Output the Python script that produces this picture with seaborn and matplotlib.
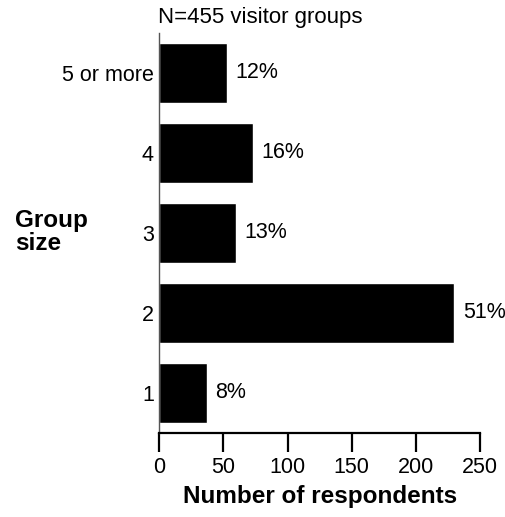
import pandas as pd
import matplotlib.pyplot as plt
import seaborn as sns

GROUP_SIZES = ["5 or more", "4", "3", "2", "1"]
RESPONDENTS = [53, 73, 60, 230, 37]
PERCENT_LABELS = ["12%", "16%", "13%", "51%", "8%"]
X_TICKS = [0, 50, 100, 150, 200, 250]

sns.set_style("white")
plt.rcParams["font.family"] = ["Liberation Sans", "DejaVu Sans"]
plt.rcParams["text.color"] = "black"
plt.rcParams["xtick.color"] = "black"
plt.rcParams["ytick.color"] = "black"
plt.rcParams["axes.labelcolor"] = "black"

df = pd.DataFrame({"size": GROUP_SIZES, "n": RESPONDENTS})

fig = plt.figure(figsize=(5.05, 5.17), dpi=100)
ax = fig.add_axes([0.3155, 0.1625, 0.635, 0.7743])

sns.barplot(data=df, x="n", y="size", orient="h", color="black",
            width=0.75, saturation=1, ax=ax)

for i, (val, lab) in enumerate(zip(RESPONDENTS, PERCENT_LABELS)):
    ax.annotate(lab, (val, i), xytext=(6, 0), textcoords="offset points",
                va="center", ha="left", fontsize=15.5, clip_on=False)

ax.set_xlim(0, 250)
ax.set_ylim(4.5, -0.5)
ax.set_xticks(X_TICKS)
ax.set_xlabel("Number of respondents", fontsize=17.5, fontweight="bold", labelpad=5)
ax.set_ylabel("")

sns.despine(ax=ax, top=True, right=True)
ax.spines["left"].set_color("#555555")
ax.spines["left"].set_linewidth(1.0)
ax.spines["bottom"].set_color("black")
ax.spines["bottom"].set_linewidth(1.6)

ax.tick_params(axis="x", bottom=True, length=14, width=1.6, color="black",
               labelsize=15.5, pad=3, direction="out")
ax.tick_params(axis="y", left=False, length=0, labelsize=15.5, pad=4)

fig.text(0.03, 0.551, "Group\nsize", fontsize=17.5, fontweight="bold",
         ha="left", va="center", linespacing=1.0)
fig.text(0.313, 0.966, "N=455 visitor groups", fontsize=16, ha="left", va="center")

plt.savefig("out.png", dpi=100)
